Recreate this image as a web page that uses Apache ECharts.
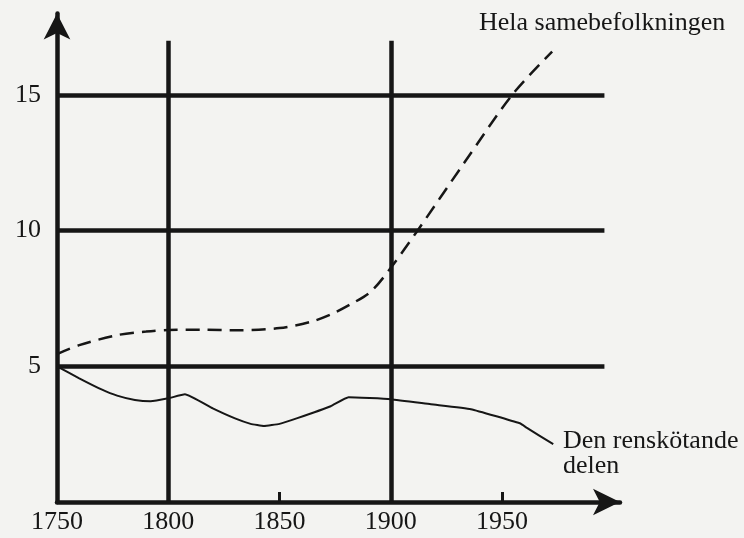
<!DOCTYPE html>
<html>
<head>
<meta charset="utf-8">
<script src="https://cdn.jsdelivr.net/npm/echarts@6/dist/echarts.min.js"></script>
<style>
html,body{margin:0;padding:0;background:#f3f3f1;}
#c{width:744px;height:538px;}
</style>
</head>
<body>
<div id="c"></div>
<script>
// Data
var helaYears   = [1750, 1760, 1777, 1790, 1800, 1815, 1832, 1850, 1864, 1873, 1882, 1891, 1900, 1912, 1933, 1954.5, 1972.5];
var helaValues  = [5.45, 5.78, 6.15, 6.28, 6.34, 6.35, 6.33, 6.41, 6.64, 6.91, 7.29, 7.75, 8.63, 10.0, 12.5, 15.0, 16.6];
var renYears    = [1750, 1760, 1770, 1777, 1785, 1792, 1800, 1807.5, 1820, 1830, 1837, 1843, 1850, 1858, 1873, 1881, 1900, 1918, 1936, 1958, 1961, 1973];
var renValues   = [5.0, 4.56, 4.15, 3.92, 3.76, 3.71, 3.82, 3.97, 3.45, 3.08, 2.88, 2.80, 2.88, 3.09, 3.53, 3.86, 3.79, 3.60, 3.42, 2.90, 2.74, 2.13];
var xLabels     = [1750, 1800, 1850, 1900, 1950];
var xTicks      = [1850, 1950];
var yLabels     = [5, 10, 15];
var vLines      = [1800, 1900];
var hLines      = [5, 10, 15];
var seriesNames = ['Hela samebefolkningen', 'Den renskötande\ndelen'];

function pairs(xs, ys){ return xs.map(function(x,i){ return [x, ys[i]]; }); }

var ink = '#161616';
var font = '"Liberation Serif", "Times New Roman", serif';

var markData = [];
hLines.forEach(function(v){ markData.push([{coord:[1750, v]}, {coord:[1996, v]}]); });
vLines.forEach(function(v){ markData.push([{coord:[v, 0]}, {coord:[v, 17]}]); });

var chart = echarts.init(document.getElementById('c'), null, {renderer:'canvas'});
chart.setOption({
  backgroundColor: '#f3f3f1',
  animation: false,
  grid: {left: 57, right: 124, top: 13.6, bottom: 36},
  xAxis: {
    type: 'value', min: 1750, max: 2003, interval: 50,
    splitLine: {show: false},
    axisLine: {show: true, lineStyle: {color: ink, width: 4.5}, symbol: ['none', 'arrow'], symbolSize: [20, 27]},
    axisTick: {show: true, inside: true, length: 10, customValues: xTicks, lineStyle: {color: ink, width: 3}},
    axisLabel: {
      customValues: xLabels,
      color: ink, fontFamily: font, fontSize: 26, margin: 7,
      formatter: function(v){ return xLabels.indexOf(v) >= 0 ? String(v) : ''; }
    }
  },
  yAxis: {
    type: 'value', min: 0, max: 18, interval: 5,
    splitLine: {show: false},
    axisLine: {show: true, lineStyle: {color: ink, width: 4.5}, symbol: ['none', 'arrow'], symbolSize: [20, 26]},
    axisTick: {show: false},
    axisLabel: {
      customValues: yLabels,
      color: ink, fontFamily: font, fontSize: 26, margin: 16,
      formatter: function(v){ return yLabels.indexOf(v) >= 0 ? String(v) : ''; }
    }
  },
  series: [
    {
      name: seriesNames[0], type: 'line', data: pairs(helaYears, helaValues),
      showSymbol: false, symbol: 'none', smooth: 0.3,
      lineStyle: {color: ink, width: 2.5, type: [14, 8]},
      markLine: {
        silent: true, symbol: ['none', 'none'], label: {show: false},
        lineStyle: {color: ink, width: 4.5, type: 'solid'},
        data: markData
      },
      z: 3
    },
    {
      name: seriesNames[1], type: 'line', data: pairs(renYears, renValues),
      showSymbol: false, symbol: 'none', smooth: 0.12,
      lineStyle: {color: ink, width: 2},
      z: 3
    }
  ],
  graphic: [
    {type: 'text', left: 479, top: 10, style: {text: seriesNames[0], fill: ink, font: '26px ' + font}},
    {type: 'text', left: 563, top: 428, style: {text: seriesNames[1], fill: ink, font: '26px ' + font, lineHeight: 25}}
  ]
});
</script>
</body>
</html>
